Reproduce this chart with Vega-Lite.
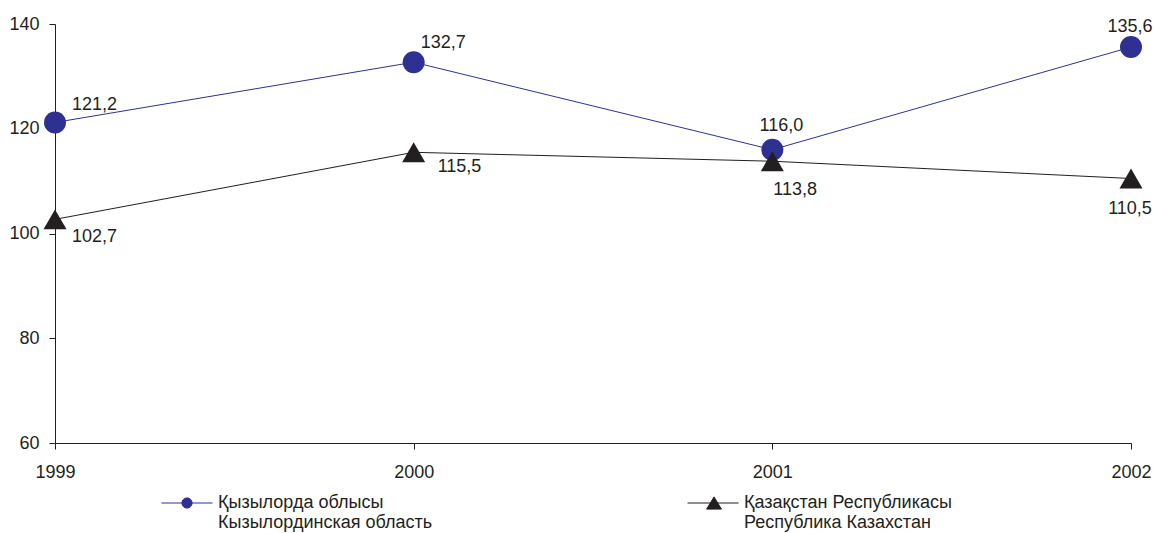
{
  "$schema": "https://vega.github.io/schema/vega-lite/v6.json",
  "width": 1076,
  "height": 419,
  "autosize": {"type": "none"},
  "padding": {"left": 55, "top": 24, "right": 23, "bottom": 90},
  "config": {
    "view": {"stroke": null},
    "font": "Liberation Sans",
    "locale": {"number": {"decimal": ",", "thousands": " ", "grouping": [3], "currency": ["", ""]}},
    "axis": {
      "domainColor": "#231F20",
      "tickColor": "#231F20",
      "labelColor": "#231F20",
      "labelFont": "Liberation Sans",
      "labelFontSize": 18,
      "grid": false,
      "title": null,
      "tickSize": 6,
      "domainWidth": 1,
      "tickWidth": 1
    },
    "legend": {
      "orient": "none",
      "legendX": 106,
      "legendY": 453,
      "direction": "horizontal",
      "columns": 2,
      "columnPadding": 252,
      "padding": 0,
      "labelFontSize": 18,
      "labelFont": "Liberation Sans",
      "labelColor": "#231F20",
      "labelLimit": 500,
      "labelOffset": 5,
      "symbolSize": 2601,
      "symbolStrokeWidth": 1,
      "symbolOpacity": 1
    }
  },
  "data": {
    "values": [
      {"series": "Қызылорда облысы|Кызылординская область", "sid": "A", "year": 1999, "value": 121.2},
      {"series": "Қызылорда облысы|Кызылординская область", "sid": "A", "year": 2000, "value": 132.7},
      {"series": "Қызылорда облысы|Кызылординская область", "sid": "A", "year": 2001, "value": 116.0},
      {"series": "Қызылорда облысы|Кызылординская область", "sid": "A", "year": 2002, "value": 135.6},
      {"series": "Қазақстан Республикасы|Республика Казахстан", "sid": "B", "year": 1999, "value": 102.7},
      {"series": "Қазақстан Республикасы|Республика Казахстан", "sid": "B", "year": 2000, "value": 115.5},
      {"series": "Қазақстан Республикасы|Республика Казахстан", "sid": "B", "year": 2001, "value": 113.8},
      {"series": "Қазақстан Республикасы|Республика Казахстан", "sid": "B", "year": 2002, "value": 110.5}
    ]
  },
  "encoding": {
    "x": {
      "field": "year", "type": "quantitative",
      "scale": {"domain": [1999, 2002], "nice": false, "zero": false},
      "axis": {"values": [1999, 2000, 2001, 2002], "format": "d", "labelFlush": false, "labelPadding": 14}
    },
    "y": {
      "field": "value", "type": "quantitative",
      "scale": {"domain": [60, 140], "nice": false, "zero": false},
      "axis": {"values": [60, 80, 100, 120, 140], "labelPadding": 10}
    }
  },
  "layer": [
    {
      "transform": [{"filter": "datum.sid == 'A'"}],
      "mark": {"type": "line", "strokeWidth": 1, "color": "#2E3192"},
      "encoding": {}
    },
    {
      "transform": [{"filter": "datum.sid == 'B'"}],
      "mark": {"type": "line", "strokeWidth": 1, "color": "#231F20"},
      "encoding": {}
    },
    {
      "transform": [{"filter": "datum.sid == 'A'"}],
      "mark": {"type": "point", "filled": true, "size": 484, "opacity": 1, "shape": "circle", "color": "#2E3192"},
      "encoding": {}
    },
    {
      "transform": [{"filter": "datum.sid == 'B'"}],
      "mark": {"type": "point", "filled": true, "size": 529, "opacity": 1, "shape": "triangle-up", "color": "#231F20"},
      "encoding": {}
    },
    {
      "transform": [{"filter": "datum.year == 0"}],
      "mark": {"type": "point", "filled": true, "opacity": 1},
      "encoding": {
        "color": {
          "field": "series", "type": "nominal",
          "scale": {"domain": ["Қызылорда облысы|Кызылординская область", "Қазақстан Республикасы|Республика Казахстан"], "range": ["#2E3192", "#231F20"]},
          "legend": {"title": null, "labelExpr": "split(datum.label, '|')", "encode": {"labels": {"lineHeight": {"value": 22}}}}
        },
        "stroke": {
          "field": "series", "type": "nominal",
          "scale": {"domain": ["Қызылорда облысы|Кызылординская область", "Қазақстан Республикасы|Республика Казахстан"], "range": ["#2E3192", "#231F20"]},
          "legend": {"title": null, "labelExpr": "split(datum.label, '|')", "encode": {"labels": {"lineHeight": {"value": 22}}}}
        },
        "shape": {
          "field": "series", "type": "nominal",
          "scale": {"domain": ["Қызылорда облысы|Кызылординская область", "Қазақстан Республикасы|Республика Казахстан"], "range": ["M-1,0H1M-0.2,0A0.2,0.2,0,1,1,0.2,0A0.2,0.2,0,1,1,-0.2,0Z", "M-1,0H1M0.04,-0.24L0.33,0.24L-0.25,0.24Z"]},
          "legend": {"title": null, "labelExpr": "split(datum.label, '|')", "encode": {"labels": {"lineHeight": {"value": 22}}}}
        }
      }
    },
    {
      "transform": [{"filter": "datum.sid == 'A' && datum.year == 1999"}],
      "mark": {"type": "text", "align": "left", "dx": 17, "dy": -17, "fontSize": 18, "color": "#231F20"},
      "encoding": {"text": {"field": "value", "type": "quantitative", "format": ".1f"}}
    },
    {
      "transform": [{"filter": "datum.sid == 'A' && datum.year == 2000"}],
      "mark": {"type": "text", "align": "left", "dx": 7, "dy": -19, "fontSize": 18, "color": "#231F20"},
      "encoding": {"text": {"field": "value", "type": "quantitative", "format": ".1f"}}
    },
    {
      "transform": [{"filter": "datum.sid == 'A' && datum.year == 2001"}],
      "mark": {"type": "text", "align": "center", "dx": 9, "dy": -24, "fontSize": 18, "color": "#231F20"},
      "encoding": {"text": {"field": "value", "type": "quantitative", "format": ".1f"}}
    },
    {
      "transform": [{"filter": "datum.sid == 'A' && datum.year == 2002"}],
      "mark": {"type": "text", "align": "center", "dx": -1, "dy": -20, "fontSize": 18, "color": "#231F20"},
      "encoding": {"text": {"field": "value", "type": "quantitative", "format": ".1f"}}
    },
    {
      "transform": [{"filter": "datum.sid == 'B' && datum.year == 1999"}],
      "mark": {"type": "text", "align": "left", "dx": 17, "dy": 18, "fontSize": 18, "color": "#231F20"},
      "encoding": {"text": {"field": "value", "type": "quantitative", "format": ".1f"}}
    },
    {
      "transform": [{"filter": "datum.sid == 'B' && datum.year == 2000"}],
      "mark": {"type": "text", "align": "left", "dx": 24, "dy": 15, "fontSize": 18, "color": "#231F20"},
      "encoding": {"text": {"field": "value", "type": "quantitative", "format": ".1f"}}
    },
    {
      "transform": [{"filter": "datum.sid == 'B' && datum.year == 2001"}],
      "mark": {"type": "text", "align": "left", "dx": 1, "dy": 29, "fontSize": 18, "color": "#231F20"},
      "encoding": {"text": {"field": "value", "type": "quantitative", "format": ".1f"}}
    },
    {
      "transform": [{"filter": "datum.sid == 'B' && datum.year == 2002"}],
      "mark": {"type": "text", "align": "center", "dx": -1, "dy": 30, "fontSize": 18, "color": "#231F20"},
      "encoding": {"text": {"field": "value", "type": "quantitative", "format": ".1f"}}
    }
  ]
}
